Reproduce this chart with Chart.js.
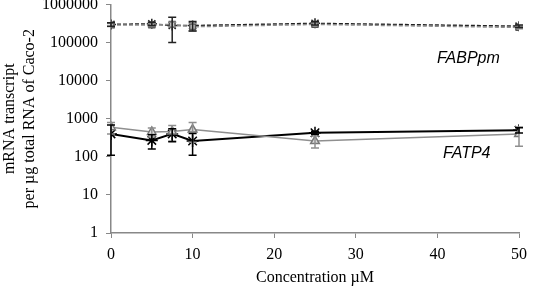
<!DOCTYPE html>
<html><head><meta charset="utf-8">
<script src="https://cdn.jsdelivr.net/npm/chart.js@4.4.0/dist/chart.umd.min.js"></script>
<style>html,body{margin:0;padding:0;background:#fff;overflow:hidden}#wrap{width:534px;height:287px;overflow:hidden}#c{display:block;margin-top:-3px}</style>
</head><body><div id="wrap"><canvas id="c" width="534" height="290"></canvas></div>
<script>
const concentrations = [0, 5, 7.5, 10, 25, 50];
const yTicks = [1, 10, 100, 1000, 10000, 100000, 1000000];
const fabpBlack = [300000, 310000, 280000, 280000, 320000, 270000];
const fabpBlackErr = [30000, 30000, 180000, 80000, 30000, 20000];
const fabpGray = [290000, 290000, 300000, 260000, 300000, 250000];
const fabpGrayErr = [25000, 25000, 40000, 60000, 25000, 20000];
const fatpBlack = [400, 270, 400, 260, 430, 500];
const fatpBlackErr = [290, 110, 150, 150, 40, 80];
const fatpGray = [600, 450, 460, 520, 260, 400];
const fatpGrayErr = [200, 120, 200, 280, 90, 210];

const pts = (ys) => concentrations.map((x, i) => ({x: x, y: ys[i]}));
const serif = '"Liberation Serif", "Times New Roman", serif';

const errPlugin = {
  id: 'err',
  afterDatasetsDraw(chart) {
    const ctx = chart.ctx, xs = chart.scales.x, ys = chart.scales.y;
    chart.data.datasets.forEach((ds) => {
      if (!ds.err) return;
      ctx.save();
      ctx.strokeStyle = ds.borderColor;
      ctx.lineWidth = ds.errWidth || 1.5;
      ds.data.forEach((p, i) => {
        const e = ds.err[i];
        const px = xs.getPixelForValue(p.x);
        const lo = Math.max(p.y - e, 1e-9);
        const y1 = ys.getPixelForValue(p.y + e), y2 = ys.getPixelForValue(lo);
        ctx.beginPath();
        ctx.moveTo(px, y1); ctx.lineTo(px, y2);
        ctx.moveTo(px - 4, y1); ctx.lineTo(px + 4, y1);
        ctx.moveTo(px - 4, y2); ctx.lineTo(px + 4, y2);
        ctx.stroke();
      });
      ctx.restore();
    });
    ctx.save();
    ctx.fillStyle = '#000';
    ctx.font = 'italic 16px "Liberation Sans", Arial, sans-serif';
    ctx.textAlign = 'center'; ctx.textBaseline = 'middle';
    ctx.fillText('FABPpm', xs.getPixelForValue(43.8), ys.getPixelForValue(38000));
    ctx.fillText('FATP4', xs.getPixelForValue(43.6), ys.getPixelForValue(125));
    ctx.restore();
  }
};

new Chart(document.getElementById('c'), {
  type: 'line',
  data: {
    datasets: [
      {data: pts(fabpGray), err: fabpGrayErr, borderColor: '#8a8a8a', backgroundColor: '#bbb', borderDash: [4, 2], borderWidth: 1.5, pointStyle: 'rect', pointRadius: 4, pointBorderColor: '#555', pointBackgroundColor: '#ccc'},
      {data: pts(fabpBlack), err: fabpBlackErr, borderColor: '#222', backgroundColor: '#222', borderDash: [4, 2], borderWidth: 1.5, pointStyle: 'star', pointRadius: 5, pointBorderWidth: 1.5},
      {data: pts(fatpGray), err: fatpGrayErr, borderColor: '#8f8f8f', backgroundColor: '#ddd', borderWidth: 1.5, pointStyle: 'triangle', pointRadius: 5, pointBorderColor: '#777', pointBackgroundColor: '#ddd'},
      {data: pts(fatpBlack), err: fatpBlackErr, borderColor: '#000', backgroundColor: '#000', borderWidth: 2, pointStyle: 'star', pointRadius: 6, pointBorderWidth: 1.5}
    ]
  },
  options: {
    responsive: false, animation: false,
    layout: {padding: {top: 0, right: 15, bottom: 0, left: 0}},
    plugins: {legend: {display: false}, tooltip: {enabled: false}},
    scales: {
      x: {
        type: 'linear', min: 0, max: 50,
        afterFit: (s) => { s.height = 54; s.paddingLeft = 0; s.paddingRight = 0; },
        ticks: {stepSize: 10, color: '#000', font: {family: serif, size: 16}, padding: 7},
        grid: {drawOnChartArea: false, drawTicks: true, tickLength: 5, color: '#888'},
        border: {color: '#888', width: 1.5},
        title: {display: true, text: 'Concentration µM', color: '#000', font: {family: serif, size: 16}, padding: {top: 2, bottom: 0}}
      },
      y: {
        type: 'logarithmic', min: 1, max: 1000000,
        afterBuildTicks: (s) => { s.ticks = yTicks.map(v => ({value: v})); },
        afterFit: (s) => { s.width = 111; s.paddingTop = 0; s.paddingBottom = 0; },
        ticks: {color: '#000', font: {family: serif, size: 16}, callback: (v) => String(v), padding: 8},
        grid: {drawOnChartArea: false, drawTicks: true, tickLength: 5, color: '#888'},
        border: {color: '#888', width: 1.5},
        title: {display: true, text: ['mRNA transcript', 'per µg total RNA of Caco-2'], color: '#000', font: {family: serif, size: 16, lineHeight: 1.25}, padding: {top: 0, bottom: 6}}
      }
    }
  },
  plugins: [errPlugin]
});
</script></body></html>
